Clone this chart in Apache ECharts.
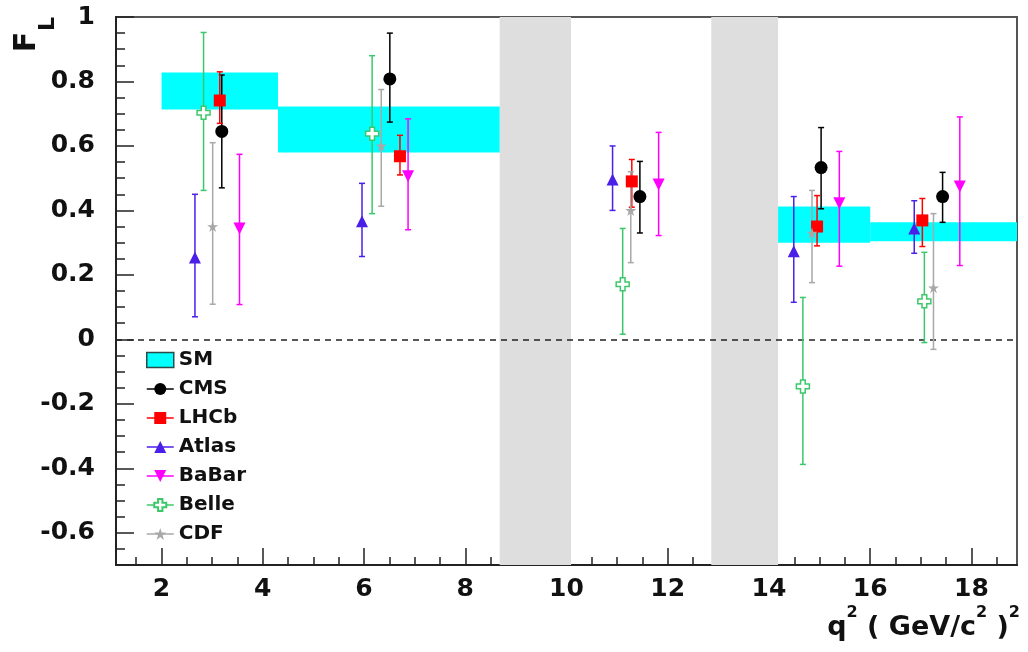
<!DOCTYPE html>
<html><head><meta charset="utf-8">
<script src="https://cdn.jsdelivr.net/npm/echarts@6/dist/echarts.min.js"></script>
<style>html,body{margin:0;padding:0;background:#fff}#c{width:1028px;height:652px}</style>
</head><body><div id="c"></div>
<script>
// ---- data ----
const xTickLabels = [2, 4, 6, 8, 10, 12, 14, 16, 18];
const yTickLabels = [-0.6, -0.4, -0.2, 0, 0.2, 0.4, 0.6, 0.8, 1];
const vetoLow = [8.68, 12.86];
const vetoHigh = [10.09, 14.18];
const smBinLow = [2, 4.3, 14.18, 16];
const smBinHigh = [4.3, 8.68, 16, 19];
const smLow = [0.713, 0.58, 0.30, 0.304];
const smHigh = [0.828, 0.722, 0.412, 0.363];

const cmsX  = [3.19, 6.51, 11.45, 15.03, 17.43];
const cmsY  = [0.645, 0.808, 0.443, 0.533, 0.443];
const cmsHi = [0.82, 0.95, 0.552, 0.657, 0.518];
const cmsLo = [0.47, 0.674, 0.33, 0.405, 0.363];

const lhcbX  = [3.15, 6.71, 11.29, 14.95, 17.03];
const lhcbY  = [0.741, 0.568, 0.49, 0.35, 0.369];
const lhcbHi = [0.83, 0.633, 0.558, 0.446, 0.437];
const lhcbLo = [0.67, 0.51, 0.41, 0.29, 0.288];

const atlasX  = [2.66, 5.96, 10.91, 14.49, 16.87];
const atlasY  = [0.254, 0.366, 0.496, 0.273, 0.344];
const atlasHi = [0.45, 0.484, 0.60, 0.443, 0.43];
const atlasLo = [0.07, 0.257, 0.40, 0.115, 0.267];

const babarX  = [3.54, 6.87, 11.82, 15.39, 17.77];
const babarY  = [0.344, 0.506, 0.48, 0.422, 0.474];
const babarHi = [0.574, 0.684, 0.642, 0.583, 0.69];
const babarLo = [0.108, 0.34, 0.322, 0.227, 0.229];

const belleX  = [2.83, 6.16, 11.11, 14.67, 17.07];
const belleY  = [0.703, 0.638, 0.171, -0.146, 0.118];
const belleHi = [0.952, 0.88, 0.344, 0.13, 0.27];
const belleLo = [0.462, 0.39, 0.016, -0.388, -0.01];

const cdfX  = [3.01, 6.34, 11.27, 14.85, 17.25];
const cdfY  = [0.35, 0.60, 0.40, 0.33, 0.16];
const cdfHi = [0.61, 0.775, 0.52, 0.462, 0.39];
const cdfLo = [0.109, 0.413, 0.238, 0.176, -0.031];

// ---- styling ----
const FONT = 'DejaVu Sans';
const X_MIN = 1.1, X_MAX = 18.9, Y_MIN = -0.7, Y_MAX = 1;
const xMinor = []; for (let v = 1.5; v <= 18.75; v += 0.5) xMinor.push(v);
const yMinor = []; for (let k = -13; k <= 20; k++) yMinor.push(+(k * 0.05).toFixed(2));

const STAR = 'path://M5,0 L6.2,3.6 L10,3.6 L6.9,5.8 L8.1,9.5 L5,7.2 L1.9,9.5 L3.1,5.8 L0,3.6 L3.8,3.6 Z';
const CROSS = 'path://M3.2,0 L6.8,0 L6.8,3.2 L10,3.2 L10,6.8 L6.8,6.8 L6.8,10 L3.2,10 L3.2,6.8 L0,6.8 L0,3.2 L3.2,3.2 Z';

const experiments = [
  {name: 'CMS',   color: '#000000', x: cmsX, y: cmsY, hi: cmsHi, lo: cmsLo, symbol: 'circle', size: 13},
  {name: 'LHCb',  color: '#ff0000', x: lhcbX, y: lhcbY, hi: lhcbHi, lo: lhcbLo, symbol: 'rect', size: 12},
  {name: 'Atlas', color: '#4a1fe8', x: atlasX, y: atlasY, hi: atlasHi, lo: atlasLo, symbol: 'triangle', size: 12},
  {name: 'BaBar', color: '#ff00ff', x: babarX, y: babarY, hi: babarHi, lo: babarLo, symbol: 'triangle', size: 12, rotate: 180},
  {name: 'Belle', color: '#3cc86a', x: belleX, y: belleY, hi: belleHi, lo: belleLo, symbol: CROSS, size: 13, hollow: true},
  {name: 'CDF',   color: '#a8a8a8', x: cdfX, y: cdfY, hi: cdfHi, lo: cdfLo, symbol: STAR, size: 11}
];

function errRender(params, api) {
  const x = api.value(0), lo = api.value(1), hi = api.value(2);
  const p1 = api.coord([x, hi]), p2 = api.coord([x, lo]);
  const c = api.visual('color');
  const w = 3;
  const st = {stroke: c, lineWidth: 1.5};
  return {type: 'group', children: [
    {type: 'line', shape: {x1: p1[0], y1: p1[1], x2: p2[0], y2: p2[1]}, style: st},
    {type: 'line', shape: {x1: p1[0] - w, y1: p1[1], x2: p1[0] + w, y2: p1[1]}, style: st},
    {type: 'line', shape: {x1: p2[0] - w, y1: p2[1], x2: p2[0] + w, y2: p2[1]}, style: st}
  ]};
}

function smRender(params, api) {
  const a = api.coord([api.value(0), api.value(3)]);
  const b = api.coord([api.value(1), api.value(2)]);
  const cs = params.coordSys;
  const r = echarts.graphic.clipRectByRect({x: a[0], y: a[1], width: b[0] - a[0], height: b[1] - a[1]},
    {x: cs.x, y: cs.y, width: cs.width, height: cs.height});
  if (!r) return null;
  return {type: 'rect', shape: r, style: {fill: '#00ffff'}};
}

function vetoRender(params, api) {
  const a = api.coord([api.value(0), Y_MAX]);
  const b = api.coord([api.value(1), Y_MIN]);
  return {type: 'rect', shape: {x: a[0], y: a[1], width: b[0] - a[0], height: b[1] - a[1]}, style: {fill: '#dedede'}};
}

const series = [];
series.push({
  name: 'veto', type: 'custom', renderItem: vetoRender, silent: true, z: 1,
  data: vetoLow.map((v, i) => [v, vetoHigh[i]]), encode: {x: [0, 1]}
});
series.push({
  name: 'SM', type: 'custom', renderItem: smRender, silent: true, z: 2,
  itemStyle: {color: '#00ffff'},
  data: smBinLow.map((v, i) => [v, smBinHigh[i], smLow[i], smHigh[i]]), encode: {x: [0, 1], y: [2, 3]},
  markLine: {silent: true, symbol: 'none', label: {show: false}, animation: false,
    lineStyle: {type: [6, 5], color: '#222', width: 1.5}, data: [{yAxis: 0}]}
});
experiments.forEach(e => {
  series.push({
    name: e.name + ' err', type: 'custom', renderItem: errRender, silent: true, z: 5,
    itemStyle: {color: e.color},
    data: e.x.map((v, i) => [v, e.lo[i], e.hi[i]]), encode: {x: 0, y: [1, 2]}
  });
});
experiments.forEach(e => {
  series.push({
    name: e.name, type: 'line', silent: true, z: 10,
    symbol: e.symbol, symbolSize: e.size, symbolRotate: e.rotate || 0, showAllSymbol: true,
    lineStyle: {color: e.color, opacity: 0, width: 1.5},
    itemStyle: e.hollow ? {color: '#ffffff', borderColor: e.color, borderWidth: 1.5} : {color: e.color},
    data: e.x.map((v, i) => [v, e.y[i]])
  });
});

const axisLabelStyle = {fontFamily: FONT, fontWeight: 'bold', fontSize: 25, color: '#111'};

const option = {
  animation: false,
  backgroundColor: '#ffffff',
  grid: {left: 116, right: 11, top: 17, bottom: 87, show: true, borderColor: '#555', borderWidth: 2, containLabel: false},
  xAxis: [
    {type: 'value', min: X_MIN, max: X_MAX, position: 'bottom',
      axisLine: {show: true, onZero: false, lineStyle: {color: '#222', width: 2}},
      axisTick: {show: true, inside: true, length: 17, customValues: xTickLabels, lineStyle: {color: '#222', width: 1.5}},
      axisLabel: Object.assign({show: true, margin: 12, customValues: xTickLabels}, axisLabelStyle),
      splitLine: {show: false}},
    {type: 'value', min: X_MIN, max: X_MAX, position: 'bottom',
      axisLine: {show: false, onZero: false},
      axisTick: {show: true, inside: true, length: 8, customValues: xMinor, lineStyle: {color: '#222', width: 1.5}},
      axisLabel: {show: false}, splitLine: {show: false}}
  ],
  yAxis: [
    {type: 'value', min: Y_MIN, max: Y_MAX, position: 'left',
      axisLine: {show: true, onZero: false, lineStyle: {color: '#222', width: 2}},
      axisTick: {show: true, inside: true, length: 18, customValues: yTickLabels, lineStyle: {color: '#222', width: 1.5}},
      axisLabel: Object.assign({show: true, margin: 21, customValues: yTickLabels, formatter: v => String(+v.toFixed(2))}, axisLabelStyle),
      splitLine: {show: false}},
    {type: 'value', min: Y_MIN, max: Y_MAX, position: 'left',
      axisLine: {show: false, onZero: false},
      axisTick: {show: true, inside: true, length: 9, customValues: yMinor, lineStyle: {color: '#222', width: 1.5}},
      axisLabel: {show: false}, splitLine: {show: false}}
  ],
  legend: {
    orient: 'vertical', left: 146, top: 350, padding: 0, itemWidth: 27, itemHeight: 15, itemGap: 9,
    selectedMode: false,
    textStyle: {fontFamily: FONT, fontWeight: 'bold', fontSize: 20, color: '#111', lineHeight: 19},
    lineStyle: {width: 1.5, opacity: 1},
    data: [{name: 'SM', icon: 'rect', itemStyle: {color: '#00ffff', borderColor: '#2a4a4a', borderWidth: 1.5}}]
      .concat(experiments.map(e => e.name))
  },
  graphic: [
    {type: 'text', x: 27, y: 42, rotation: Math.PI / 2,
      style: {text: 'F', font: 'bold 30px "DejaVu Sans"', fill: '#111', align: 'center', verticalAlign: 'middle'}},
    {type: 'text', x: 48, y: 24, rotation: Math.PI / 2,
      style: {text: 'L', font: 'bold 22px "DejaVu Sans"', fill: '#111', align: 'center', verticalAlign: 'middle'}},
    {type: 'text', right: 8, top: 605,
      style: {text: '{b|q}{s|2}{b| ( GeV/c}{s|2}{b| )}{s|2}', fill: '#111',
        rich: {
          b: {fontFamily: FONT, fontWeight: 'bold', fontSize: 27, lineHeight: 36, verticalAlign: 'bottom', fill: '#111'},
          s: {fontFamily: FONT, fontWeight: 'bold', fontSize: 16, lineHeight: 18, verticalAlign: 'top', fill: '#111'}
        }}}
  ],
  series: series.map(s => Object.assign({xAxisIndex: 0, yAxisIndex: 0}, s))
};

const chart = echarts.init(document.getElementById('c'), null, {renderer: 'canvas'});
chart.setOption(option);
</script>
</body></html>
